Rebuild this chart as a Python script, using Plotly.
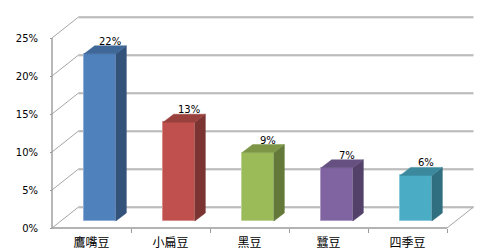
import plotly.graph_objects as go

# Share of each bean variety
categories = ["鷹嘴豆", "小扁豆", "黑豆", "蠶豆", "四季豆"]
shares = [22, 13, 9, 7, 6]  # percent
colors = ["#4F81BD", "#C0504D", "#9BBB59", "#8064A2", "#4BACC6"]
y_ticks = [0, 5, 10, 15, 20, 25]

# Oblique-projection geometry, in axis units (x: category slots, y: percent)
PX_X, PX_Y = 79.0, 7.6            # pixels per category slot / per percent
WALL_DX, WALL_DY = 26.5 / PX_X, 21.0 / PX_Y       # depth of the floor / side wall
BAR_OFF_DX, BAR_OFF_DY = 8.5 / PX_X, 7.0 / PX_Y   # bar front face inside the depth
BAR_DX, BAR_DY = 10.5 / PX_X, 8.0 / PX_Y          # depth of each bar
BAR_W = 31.7 / PX_X

W, H = 494, 251
ML, MB = 48, 18
X0 = -4 / PX_X
Y0 = -5 / PX_Y


def shade(hex_color, f):
    r, g, b = (int(hex_color[i:i + 2], 16) for i in (1, 3, 5))
    return "rgb({},{},{})".format(int(r * f), int(g * f), int(b * f))


def tint(hex_color, t):
    r, g, b = (int(hex_color[i:i + 2], 16) for i in (1, 3, 5))
    return "rgb({},{},{})".format(int(r + (255 - r) * t), int(g + (255 - g) * t), int(b + (255 - b) * t))


n = len(categories)
shapes = []
grid_dark, grid_light, edge = "#8C8C8C", "#D6D6D6", "#9A9A9A"

# back-wall gridlines and side-wall diagonals
for v in y_ticks:
    shapes.append(dict(type="line", xref="x", yref="y", layer="below",
                       x0=WALL_DX, x1=n + WALL_DX, y0=v + WALL_DY - 0.14, y1=v + WALL_DY - 0.14,
                       line=dict(color=grid_light, width=1)))
    shapes.append(dict(type="line", xref="x", yref="y", layer="below",
                       x0=WALL_DX, x1=n + WALL_DX, y0=v + WALL_DY, y1=v + WALL_DY,
                       line=dict(color=grid_dark, width=1)))
    shapes.append(dict(type="line", xref="x", yref="y", layer="below",
                       x0=0, x1=WALL_DX, y0=v, y1=v + WALL_DY,
                       line=dict(color="#A6A6A6", width=1)))

# floor front edge, right floor edge and the front value axis
shapes.append(dict(type="line", xref="x", yref="y", layer="below",
                   x0=0, x1=n, y0=0, y1=0, line=dict(color=edge, width=1.6)))
shapes.append(dict(type="line", xref="x", yref="y", layer="below",
                   x0=n, x1=n + WALL_DX, y0=0, y1=WALL_DY, line=dict(color="#A6A6A6", width=1)))
shapes.append(dict(type="line", xref="x", yref="y", layer="below",
                   x0=0, x1=0, y0=0, y1=max(y_ticks), line=dict(color=edge, width=1.4)))

fig = go.Figure()

centers = [i + 0.5 + BAR_OFF_DX for i in range(n)]

# front faces
fig.add_trace(go.Bar(
    x=centers, y=shares, base=[BAR_OFF_DY] * n, width=BAR_W,
    marker=dict(color=colors, line=dict(color=[tint(c, 0.35) for c in colors], width=1)),
    hoverinfo="skip", showlegend=False,
))

# side and top faces
for cx, v, c in zip(centers, shares, colors):
    xl, xr = cx - BAR_W / 2, cx + BAR_W / 2
    yb, yt = BAR_OFF_DY, BAR_OFF_DY + v
    fig.add_trace(go.Scatter(
        x=[xr, xr + BAR_DX, xr + BAR_DX, xr, xr],
        y=[yb, yb + BAR_DY, yt + BAR_DY, yt, yb],
        fill="toself", fillcolor=shade(c, 0.65), mode="lines",
        line=dict(color=shade(c, 0.65), width=0.5),
        hoverinfo="skip", showlegend=False))
    fig.add_trace(go.Scatter(
        x=[xl, xr, xr + BAR_DX, xl + BAR_DX, xl],
        y=[yt, yt, yt + BAR_DY, yt + BAR_DY, yt],
        fill="toself", fillcolor=shade(c, 0.8), mode="lines",
        line=dict(color=shade(c, 0.8), width=0.5),
        hoverinfo="skip", showlegend=False))

# value labels
annotations = []
for cx, v in zip(centers, shares):
    annotations.append(dict(
        x=cx + 0.127, y=v + BAR_OFF_DY + BAR_DY, xref="x", yref="y",
        text="{:.0f}%".format(v), showarrow=False, yanchor="bottom", yshift=-3,
        font=dict(family="DejaVu Sans", size=10, color="black")))

fig.update_layout(
    width=W, height=H,
    margin=dict(l=ML, r=0, t=0, b=MB, pad=0),
    paper_bgcolor="white", plot_bgcolor="white",
    shapes=shapes, annotations=annotations,
    bargap=0,
    xaxis=dict(
        range=[X0, X0 + (W - ML) / PX_X], anchor="free", position=5 / (H - MB),
        showgrid=False, zeroline=False, showline=False,
        tickmode="array", tickvals=[i + 0.5 for i in range(n)], ticktext=categories,
        ticks="", ticklabelstandoff=6,
        tickfont=dict(family="Noto Sans CJK TC", size=12, color="black"),
        minor=dict(tickmode="array", tickvals=list(range(1, n + 1)), ticks="outside",
                   ticklen=4, tickwidth=1, tickcolor=edge, showgrid=False),
    ),
    yaxis=dict(
        range=[Y0, Y0 + (H - MB) / PX_Y], anchor="free", position=4 / (W - ML),
        showgrid=False, zeroline=False, showline=False,
        tickmode="array", tickvals=y_ticks, ticktext=["{}%".format(v) for v in y_ticks],
        ticks="outside", ticklen=2, tickwidth=1, tickcolor=edge, ticklabelstandoff=10,
        tickfont=dict(family="DejaVu Sans", size=10, color="black"),
    ),
)

fig.write_html("out.html")
